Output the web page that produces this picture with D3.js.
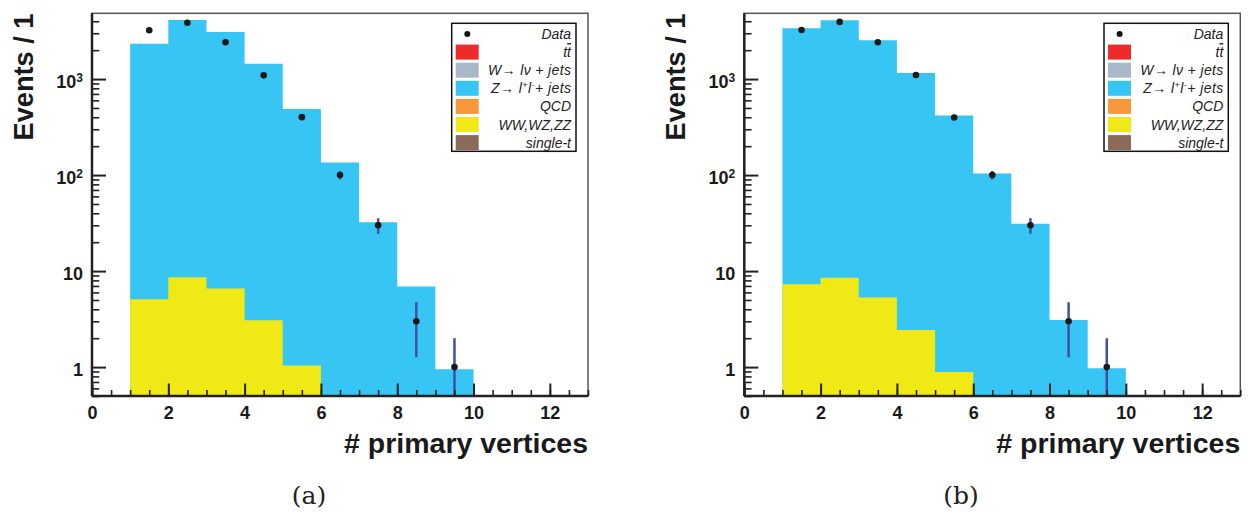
<!DOCTYPE html>
<html><head><meta charset="utf-8">
<script src="https://cdn.jsdelivr.net/npm/d3@7"></script>
<style>body{margin:0;background:#fff} svg{display:block}</style>
</head><body>
<svg id="c" width="1248" height="515"></svg>
<script>
// ---- data ----
const binLow = [1, 2, 3, 4, 5, 6, 7, 8, 9];
const dataA = [3220, 3860, 2415, 1093, 401, 100, 30, 3, 1];
const zjetsA = [2330, 4111, 3083, 1441, 486, 135, 32.3, 6.9, 0.95];
const dibosonA = [5.1, 8.6, 6.6, 3.07, 1.04, 0, 0, 0, 0];
const dataB = [3245, 3936, 2417, 1101, 398, 100, 30, 3, 1];
const zjetsB = [3376, 4092, 2530, 1153, 417, 104, 31.1, 3.1, 0.97];
const dibosonB = [7.3, 8.5, 5.3, 2.43, 0.89, 0, 0, 0, 0];
const xTicks = [0, 2, 4, 6, 8, 10, 12];
const xMinorTicks = d3.range(0, 13.01, 0.5);
const yTicks = [1, 10, 100, 1000];
const yTickBase = ["1", "10", "10", "10"];
const yTickExp = ["", "", "2", "3"];
const legendNames = ["Data", "ttbar", "W", "Z", "QCD", "WW,WZ,ZZ", "single-t"];
const legendColors = [null, "#ee2a2b", "#a9b8c6", "#37c6f4", "#f7963a", "#f1e916", "#8c6a5a"];
const xTitle = "# primary vertices";
const yTitle = "Events / 1";
const panelLabels = ["(a)", "(b)"];

const COL_Z = "#37c6f4", COL_WW = "#f1e916", COL_ERR = "#3d50a8";
const svg = d3.select("#c");
const FONT = "'Liberation Sans', Arial, Helvetica, sans-serif";

function drawPanel(left, data, zjets, diboson, label, idx) {
  const W = 496, top = 13.3, bottom = 396;
  const x = d3.scaleLinear().domain([0, 13]).range([left, left + W]);
  const y = d3.scaleLog().domain([0.5, 4840]).range([bottom, top]);
  const yc = v => v > 0.5 ? y(v) : bottom;
  const g = svg.append("g");
  const clipId = "clip" + idx;
  svg.append("clipPath").attr("id", clipId).append("rect")
    .attr("x", left).attr("y", top).attr("width", W).attr("height", bottom - top);
  const plot = g.append("g").attr("clip-path", `url(#${clipId})`);

  const total = zjets.map((z, i) => z + diboson[i]);
  const pts = (arr) => binLow.map((b, i) => ({x: b, v: arr[i]})).concat([{x: binLow[binLow.length - 1] + 1, v: arr[arr.length - 1]}]);
  const area = d3.area().curve(d3.curveStepAfter)
    .x(d => x(d.x)).y0(bottom).y1(d => yc(d.v));
  plot.append("path").attr("d", area(pts(total))).attr("fill", COL_Z);
  plot.append("path").attr("d", area(pts(diboson))).attr("fill", COL_WW);
  // data error bars
  binLow.forEach((b, i) => {
    const v = data[i], e = Math.sqrt(v);
    plot.append("line").attr("x1", x(b + 0.5)).attr("x2", x(b + 0.5))
      .attr("y1", yc(v + e)).attr("y2", yc(v - e))
      .attr("stroke", COL_ERR).attr("stroke-width", 2.5);
  });
  binLow.forEach((b, i) => {
    plot.append("circle").attr("cx", x(b + 0.5)).attr("cy", y(data[i])).attr("r", 3.3).attr("fill", "#1a1a1a");
  });

  // frame
  g.append("rect").attr("x", left).attr("y", top).attr("width", W).attr("height", bottom - top)
    .attr("fill", "none").attr("stroke", "#555").attr("stroke-width", 1.5);

  // x axis
  const xMaj = d3.axisBottom(x).tickValues(xTicks).tickSizeInner(-12.5).tickSizeOuter(0).tickPadding(10.5);
  const xa = g.append("g").attr("transform", `translate(0,${bottom})`).call(xMaj);
  const xMin = d3.axisBottom(x).tickValues(xMinorTicks).tickSizeInner(-6).tickSizeOuter(0).tickFormat("");
  const xb = g.append("g").attr("transform", `translate(0,${bottom})`).call(xMin);
  [xa, xb].forEach(a => { a.select(".domain").remove(); a.selectAll("line").attr("stroke", "#222").attr("stroke-width", 2); });
  xb.selectAll("line").attr("stroke-width", 1.6);
  xa.selectAll("text").attr("font-family", FONT).attr("font-weight", "bold").attr("font-size", 18).attr("fill", "#1a1a1a");

  // y axis
  const minors = [];
  for (let d = 0.1; d <= 1000; d *= 10) for (let k = 2; k <= 9; k++) { const v = k * d; if (v >= 0.5 && v <= 4840 && ![1,10,100,1000].includes(+v.toPrecision(3))) minors.push(v); }
  const yMaj = d3.axisLeft(y).tickValues(yTicks).tickSizeInner(-14).tickSizeOuter(0).tickFormat("");
  const yMin = d3.axisLeft(y).tickValues(minors).tickSizeInner(-7.3).tickSizeOuter(0).tickFormat("");
  const ya = g.append("g").attr("transform", `translate(${left},0)`).call(yMaj);
  const yb = g.append("g").attr("transform", `translate(${left},0)`).call(yMin);
  [ya, yb].forEach(a => { a.select(".domain").remove(); a.selectAll("line").attr("stroke", "#222").attr("stroke-width", 2); });
  yb.selectAll("line").attr("stroke-width", 1.6);
  yTicks.forEach((t, i) => {
    const tx = g.append("text").attr("x", left - 9).attr("y", y(t) + 8.5)
      .attr("text-anchor", "end").attr("font-family", FONT).attr("font-weight", "bold")
      .attr("font-size", 18).attr("fill", "#1a1a1a");
    tx.append("tspan").text(yTickBase[i]);
    if (yTickExp[i]) tx.append("tspan").attr("font-size", 12).attr("dy", -6).text(yTickExp[i]);
  });

  // axis lines
  g.append("line").attr("x1", left).attr("x2", left + W).attr("y1", bottom).attr("y2", bottom).attr("stroke", "#222").attr("stroke-width", 2.5);
  g.append("line").attr("x1", left).attr("x2", left).attr("y1", top).attr("y2", bottom).attr("stroke", "#222").attr("stroke-width", 2.5);

  // titles
  g.append("text").attr("x", left + W).attr("y", 453).attr("text-anchor", "end")
    .attr("font-family", FONT).attr("font-weight", "bold").attr("font-size", 27).attr("fill", "#1a1a1a")
    .attr("textLength", 244).attr("lengthAdjust", "spacingAndGlyphs").text(xTitle);
  g.append("text").attr("transform", `translate(${left - 59.5},13.5) rotate(-90)`).attr("text-anchor", "end")
    .attr("font-family", FONT).attr("font-weight", "bold").attr("font-size", 28).attr("fill", "#1a1a1a")
    .attr("textLength", 127).attr("lengthAdjust", "spacingAndGlyphs").text(yTitle);

  // legend
  const lx = left + W - 136.3, ly = 23.3, lw = 124.3, lh = 128;
  const lg = g.append("g");
  lg.append("rect").attr("x", lx).attr("y", ly).attr("width", lw).attr("height", lh)
    .attr("fill", "#fff").attr("stroke", "#111").attr("stroke-width", 1.5);
  legendNames.forEach((n, i) => {
    const cy = 34 + 18.1 * i;
    if (legendColors[i]) {
      lg.append("rect").attr("x", lx + 4).attr("y", cy - 7.5).attr("width", 23).attr("height", 15)
        .attr("fill", legendColors[i]);
    } else {
      lg.append("circle").attr("cx", lx + 15.6).attr("cy", cy).attr("r", 3).attr("fill", "#111");
    }
    const t = lg.append("text").attr("x", lx + lw - 5).attr("y", cy + 5).attr("text-anchor", "end")
      .attr("font-family", FONT).attr("font-style", "italic").attr("font-size", 14).attr("fill", "#222");
    if (n === "ttbar") {
      t.append("tspan").text("t");
      t.append("tspan").style("text-decoration", "overline").text("t");
    } else if (n === "W") {
      t.attr("textLength", 83).attr("lengthAdjust", "spacing");
      t.append("tspan").text("W\u2192 l\u03bd + jets");
    } else if (n === "Z") {
      t.attr("textLength", 80).attr("lengthAdjust", "spacing");
      t.append("tspan").text("Z\u2192 l");
      t.append("tspan").attr("font-size", 9).attr("dy", -5).text("+");
      t.append("tspan").attr("dy", 5).text("l");
      t.append("tspan").attr("font-size", 9).attr("dy", -5).text("-");
      t.append("tspan").attr("dy", 5).text("+ jets");
    } else {
      t.text(n);
    }
  });

  // panel label
  svg.append("text").attr("x", idx === 0 ? 309 : 961).attr("y", 503.5).attr("text-anchor", "middle")
    .attr("font-family", "'DejaVu Serif', serif").attr("font-size", 25).attr("fill", "#222").text(label);
}

drawPanel(92, dataA, zjetsA, dibosonA, panelLabels[0], 0);
drawPanel(744.3, dataB, zjetsB, dibosonB, panelLabels[1], 1);
</script>
</body></html>
